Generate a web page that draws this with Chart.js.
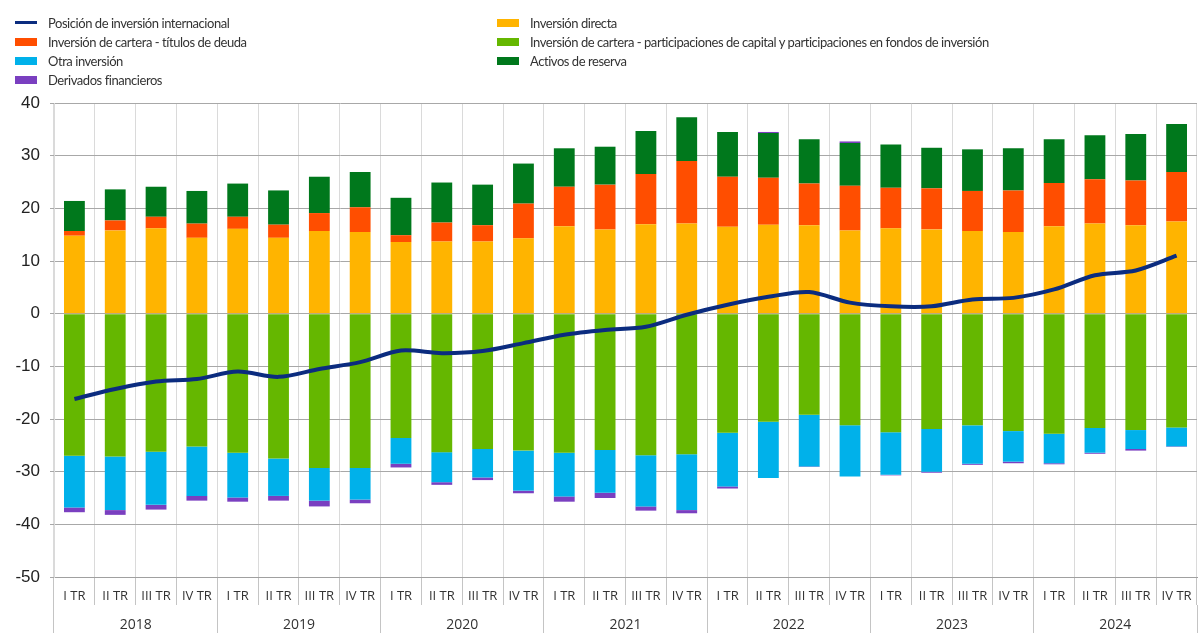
<!DOCTYPE html>
<html>
<head>
<meta charset="utf-8">
<script src="https://cdn.jsdelivr.net/npm/chart.js@4.4.1/dist/chart.umd.min.js"></script>
<style>
  html, body { margin: 0; padding: 0; background: #fff; }
  #wrap { position: relative; width: 1199px; height: 633px; overflow: hidden; }
  #grafico { position: absolute; left: 0; top: 0; }
  .leyenda { position: absolute; top: 14px; font-family: Lato, sans-serif; font-size: 13px; letter-spacing: -0.45px; color: #333; }
  .leyenda div { height: 19px; line-height: 19px; white-space: nowrap; position: relative; padding-left: 33px; }
  .leyenda span { position: absolute; left: 0; top: 5px; width: 22px; height: 8px; }
  .leyenda span.linea { top: 7px; height: 3px; }
</style>
</head>
<body>
<div id="wrap">
  <canvas id="grafico" width="1199" height="633"></canvas>
  <div class="leyenda" id="leyenda-izq" style="left:15px"></div>
  <div class="leyenda" id="leyenda-der" style="left:497px"></div>
</div>
<script>
// Categorías
const anios = ['2018', '2019', '2020', '2021', '2022', '2023', '2024'];
const trimestres = ['I TR', 'II TR', 'III TR', 'IV TR'];

// Series (% del PIB)
const inversionDirecta = [14.8, 15.8, 16.2, 14.4, 16.1, 14.4, 15.7, 15.5, 13.6, 13.7, 13.7, 14.3, 16.6, 16.0,
    17.0, 17.1, 16.5, 16.9, 16.8, 15.8, 16.2, 16.0, 15.7, 15.5, 16.6, 17.1, 16.8, 17.5];
const participaciones = [-27.0, -27.1, -26.2, -25.2, -26.4, -27.5, -29.3, -29.3, -23.6, -26.3, -25.7, -26.0, -26.4, -25.9,
    -26.9, -26.7, -22.6, -20.5, -19.2, -21.2, -22.5, -21.9, -21.2, -22.3, -22.8, -21.7, -22.1, -21.6];
const titulosDeuda = [0.9, 1.9, 2.2, 2.7, 2.3, 2.5, 3.4, 4.7, 1.3, 3.6, 3.1, 6.6, 7.5, 8.5,
    9.5, 11.9, 9.5, 8.9, 7.9, 8.5, 7.7, 7.8, 7.6, 7.9, 8.2, 8.4, 8.5, 9.4];
const otraInversion = [-9.8, -10.2, -10.1, -9.4, -8.5, -7.1, -6.2, -6.0, -4.9, -5.7, -5.4, -7.6, -8.3, -8.1,
    -9.7, -10.6, -10.2, -10.7, -9.8, -9.7, -8.1, -8.1, -7.3, -5.8, -5.6, -4.7, -3.6, -3.6];
const activosReserva = [5.7, 5.9, 5.7, 6.2, 6.3, 6.5, 6.9, 6.7, 7.1, 7.6, 7.7, 7.6, 7.3, 7.2,
    8.2, 8.3, 8.5, 8.5, 8.4, 8.1, 8.2, 7.7, 7.9, 8.0, 8.3, 8.4, 8.8, 9.1];
const derivados = [-0.9, -0.9, -0.9, -0.9, -0.8, -0.9, -1.1, -0.7, -0.7, -0.5, -0.5, -0.5, -1.0, -1.0,
    -0.8, -0.6, -0.4, 0.2, -0.1, 0.3, -0.1, -0.2, -0.2, -0.3, -0.2, -0.2, -0.3, -0.1];
const posicionInternacional = [-16.2, -14.3, -12.9, -12.4, -11.0, -12.0, -10.5, -9.2, -7.0, -7.5, -7.1, -5.6, -4.0, -3.1,
    -2.5, -0.2, 1.7, 3.2, 4.1, 2.1, 1.4, 1.4, 2.7, 3.0, 4.6, 7.3, 8.2, 11.0];

const etiquetas = [];
anios.forEach(function() { trimestres.forEach(function(t) { etiquetas.push(t); }); });

// Colores
const colores = {
    posicion: '#0b2c7f',
    directa: '#ffb400',
    participaciones: '#65b700',
    titulos: '#ff4e00',
    otra: '#00b1ea',
    reserva: '#00781c',
    derivados: '#7a3fc0'
};

function barra(label, data, color) {
    return {
        type: 'bar',
        label: label,
        data: data,
        backgroundColor: color,
        borderWidth: 0,
        categoryPercentage: 1,
        barPercentage: 0.51,
        order: 1
    };
}

const datasets = [
    {
        type: 'line',
        label: 'Posición de inversión internacional',
        data: posicionInternacional,
        borderColor: colores.posicion,
        backgroundColor: colores.posicion,
        borderWidth: 4,
        pointRadius: 0,
        tension: 0.3,
        stack: 'linea',
        order: 0
    },
    barra('Inversión directa', inversionDirecta, colores.directa),
    barra('Inversión de cartera - participaciones de capital y participaciones en fondos de inversión', participaciones, colores.participaciones),
    barra('Inversión de cartera - títulos de deuda', titulosDeuda, colores.titulos),
    barra('Otra inversión', otraInversion, colores.otra),
    barra('Activos de reserva', activosReserva, colores.reserva),
    barra('Derivados financieros', derivados, colores.derivados)
];

// Leyenda en dos columnas
const izquierda = [0, 3, 4, 6];
const derecha = [1, 2, 5];
function llenarLeyenda(id, indices) {
    const caja = document.getElementById(id);
    indices.forEach(function(i) {
        const ds = datasets[i];
        const fila = document.createElement('div');
        const marca = document.createElement('span');
        marca.style.background = ds.type === 'line' ? ds.borderColor : ds.backgroundColor;
        if (ds.type === 'line') marca.className = 'linea';
        fila.appendChild(marca);
        fila.appendChild(document.createTextNode(ds.label));
        caja.appendChild(fila);
    });
}
llenarLeyenda('leyenda-izq', izquierda);
llenarLeyenda('leyenda-der', derecha);

const ctx = document.getElementById('grafico').getContext('2d');
new Chart(ctx, {
    data: { labels: etiquetas, datasets: datasets },
    options: {
        responsive: false,
        animation: false,
        layout: { padding: { top: 103, right: 2, left: 0, bottom: 0 } },
        plugins: { legend: { display: false }, tooltip: { enabled: false } },
        scales: {
            x: {
                stacked: true,
                weight: 0,
                afterFit: function(s) { s.height = 28; },
                grid: { offset: true, color: '#dadada', tickColor: '#c4c4c4', tickLength: 28, lineWidth: 1 },
                border: { color: '#a0a0a0' },
                ticks: { padding: -17, maxRotation: 0, autoSkip: false, color: '#333',
                    font: { family: 'Open Sans', size: 13 } }
            },
            x2: {
                type: 'category',
                labels: anios,
                position: 'bottom',
                weight: 1,
                offset: true,
                afterFit: function(s) { s.height = 28; },
                grid: { offset: true, drawOnChartArea: false, tickColor: '#c4c4c4', tickLength: 28 },
                border: { display: false },
                ticks: { padding: -16, maxRotation: 0, color: '#333',
                    font: { family: 'Open Sans', size: 14 } }
            },
            y: {
                stacked: true,
                min: -50,
                max: 40,
                afterFit: function(s) { s.width = 54; },
                grid: { color: '#a8a8a8', tickLength: 4 },
                border: { color: '#dadada' },
                ticks: { stepSize: 10, padding: 10, color: '#222',
                    font: { family: 'Liberation Sans', size: 17 } }
            }
        }
    }
});
</script>
</body>
</html>
